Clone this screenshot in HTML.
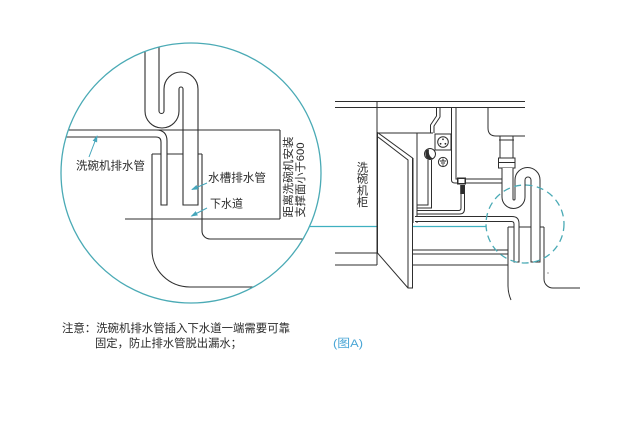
<!DOCTYPE html>
<html>
<head>
<meta charset="utf-8">
<style>
  html, body { margin: 0; padding: 0; background: #fff; }
  svg { display: block; }
  text { font-family: "Liberation Sans", "Noto Sans CJK SC", sans-serif; }
</style>
</head>
<body>
<svg width="627" height="435" viewBox="0 0 627 435" xmlns="http://www.w3.org/2000/svg">
  <rect width="627" height="435" fill="#fff"/>
  <defs>
    <clipPath id="cc"><circle cx="191" cy="173" r="130"/></clipPath>
    <marker id="ah" markerWidth="7" markerHeight="6" refX="6" refY="3" orient="auto" markerUnits="userSpaceOnUse">
      <path d="M0,0.6 L7,3 L0,5.4 z" fill="#45a6bb"/>
    </marker>
  </defs>

  <!-- ============ LEFT DETAIL CIRCLE ============ -->
  <g clip-path="url(#cc)" stroke="#2e2e2e" stroke-width="1.1" fill="none">
    <!-- dimension lines -->
    <path d="M40 130 H280"/>
    <path d="M280 130 V219"/>
    <path d="M125 219 H280"/>
    <!-- dishwasher drain pipe -->
    <path d="M40 137 H156 Q161 137 161 142 V205 H167 V141 Q167 130 156 130"/>
    <!-- S trap + sink drain tube -->
    <path d="M145 30 V111 A17 17 0 0 0 179 111 V89 A2 2 0 0 1 183 89 V205 H198 V89 A17 17 0 0 0 164 89 V111 A2.5 2.5 0 0 1 159 111 V30"/>
    <!-- sewer pipe -->
    <path d="M152 154 V250 A38 37 0 0 0 190 287 H340"/>
    <path d="M202 154 V231 A8 8 0 0 0 210 239 H340"/>
    <path d="M152 154 H161 M167 154 H183 M198 154 H202"/>
  </g>
  <circle cx="191" cy="173" r="130" fill="none" stroke="#4aaab5" stroke-width="1.3"/>

  <!-- labels inside circle -->
  <g fill="#2a2a2a" font-size="11.5">
    <text x="76" y="169.4" textLength="69" lengthAdjust="spacingAndGlyphs">洗碗机排水管</text>
    <text x="208" y="181.4" textLength="58" lengthAdjust="spacingAndGlyphs">水槽排水管</text>
    <text x="210" y="207.4" textLength="33" lengthAdjust="spacingAndGlyphs">下水道</text>
  </g>
  <g fill="#2a2a2a" font-size="11">
    <text transform="translate(291.8,217.5) rotate(-90)" textLength="81" lengthAdjust="spacingAndGlyphs">距离洗碗机安装</text>
    <text transform="translate(303.8,217.5) rotate(-90)" textLength="75" lengthAdjust="spacingAndGlyphs">支撑面小于600</text>
  </g>
  <!-- cyan leader arrows -->
  <g stroke="#45a6bb" stroke-width="1" fill="none">
    <line x1="89" y1="157" x2="97" y2="136" marker-end="url(#ah)"/>
    <line x1="207" y1="183" x2="192" y2="189.5" marker-end="url(#ah)"/>
    <line x1="207" y1="208" x2="191.5" y2="216" marker-end="url(#ah)"/>
  </g>

  <!-- connector line -->
  <line x1="309" y1="226.5" x2="486" y2="226.5" stroke="#3fb0c0" stroke-width="1.2"/>

  <!-- ============ RIGHT DRAWING ============ -->
  <g stroke="#2e2e2e" stroke-width="1" fill="none">
    <!-- countertop -->
    <path d="M335 101.5 H525"/>
    <path d="M335 107.5 H525"/>
    <!-- cabinet side -->
    <path d="M377 101.5 V265"/>
    <path d="M335 253 H377 M335 265 H377"/>
    <!-- sink bowl -->
    <path d="M488 107.5 V128 Q488 136 496 136 H525"/>
    <!-- tailpiece & nut -->
    <path d="M500 136 V158 M513 136 V158"/>
    <path d="M499 140 H514"/>
    <rect x="498.5" y="158" width="16.5" height="10" fill="#fff"/>
    <path d="M498.5 162.5 H515"/>
    <!-- S-trap -->
    <path d="M502 168 V197 A11.5 11.5 0 0 0 525 197 V180 A3 3 0 0 1 531 180 V262 H540 V180 A12.5 12.5 0 0 0 515 180 V199 A1 1 0 0 1 513 199 V168" fill="#fff"/>
    <!-- supply pipe from counter to T -->
    <path d="M451.5 107.5 V180 Q451.5 183 455 183 H502"/>
    <path d="M456 107.5 V179 H502"/>
    <!-- dishwasher body -->
    <path d="M378 133 H433"/>
    <path d="M417 133 V223"/>
    <path d="M413 158 V223"/>
    <!-- wavy water pipe -->
    <path d="M440 107.5 V117 L434 126 V133"/>
    <path d="M436.5 107.5 V116 L430.5 125 V133"/>
    <!-- socket -->
    <rect x="435" y="134" width="16" height="16" fill="#fff"/>
    <circle cx="443" cy="142" r="5.3"/>
    <!-- ground symbol -->
    <circle cx="443" cy="162" r="4.6"/>
    <path d="M443 158.5 V161 M439.8 161 H446.2 M441 163 H445 M442.2 165 H443.8"/>
    <!-- valve knob -->
    <circle cx="430" cy="154" r="5.5" fill="#fff"/>
    <!-- inlet hose from knob -->
    <path d="M428 160 V205 H417"/>
    <path d="M431.5 160 V208 H417"/>
    <!-- hose from T valve -->
    <path d="M464.5 194 V209 Q464.5 214 459.5 214 H417"/>
    <path d="M461 194 V208 Q461 210.5 458.5 210.5 H417"/>
    <!-- dishwasher drain hose -->
    <path d="M415 216.5 H512 Q519 216.5 519 223.5 V262 H514 V224 Q514 221.5 511.5 221.5 H415" fill="#fff"/>
    <!-- lower cabinet lines -->
    <path d="M413 250 H508 M413 254 H508 M413 265 H508"/>
    <!-- sewer box -->
    <path d="M508 227 H514 M519 227 H531 M540 227 H544"/>
    <path d="M508 227 V286 Q508 293 511 300"/>
    <path d="M544 227 V279 A9 9 0 0 0 553 288 H580"/>
    <!-- door -->
    <path d="M377.5 132.5 L412.5 158 V288 H408 L377.5 253 Z" fill="#fff"/>
    <path d="M378 137 L408 160 V288"/>
  </g>
  <!-- socket dots, knob shading, T fitting -->
  <g fill="#2e2e2e">
    <circle cx="443" cy="139.3" r="0.9"/>
    <circle cx="440.6" cy="143.8" r="0.9"/>
    <circle cx="445.4" cy="143.8" r="0.9"/>
    <path d="M426.5 150 Q424 154 427 158.5 Q430 160 433 158.5 Q428 156 429 149.5 Z"/>
    <rect x="457" y="177.5" width="9" height="7"/>
    <rect x="460.2" y="185" width="4.8" height="9"/>
  </g>
  <rect x="458.5" y="179" width="6" height="4" fill="#fff"/>
  <circle cx="548" cy="273" r="0.6" fill="#555"/>

  <!-- dashed circle -->
  <circle cx="525" cy="224" r="39" fill="none" stroke="#4aaab5" stroke-width="1.3" stroke-dasharray="7 4.5"/>

  <!-- cabinet label (vertical) -->
  <g fill="#2a2a2a" font-size="11.3" text-anchor="middle">
    <text x="362.5" y="171.3">洗</text>
    <text x="362.5" y="182.6">碗</text>
    <text x="362.5" y="194.3">机</text>
    <text x="362.5" y="206">柜</text>
  </g>

  <!-- bottom note -->
  <g fill="#2a2a2a" font-size="11.3">
    <text x="62" y="331.8" textLength="228" lengthAdjust="spacingAndGlyphs">注意：洗碗机排水管插入下水道一端需要可靠</text>
    <text x="95" y="346.8" textLength="147" lengthAdjust="spacingAndGlyphs">固定，防止排水管脱出漏水；</text>
  </g>
  <text x="333" y="346.8" font-size="11.3" fill="#4aa6d6" textLength="30" lengthAdjust="spacingAndGlyphs">(图A)</text>
</svg>
</body>
</html>
